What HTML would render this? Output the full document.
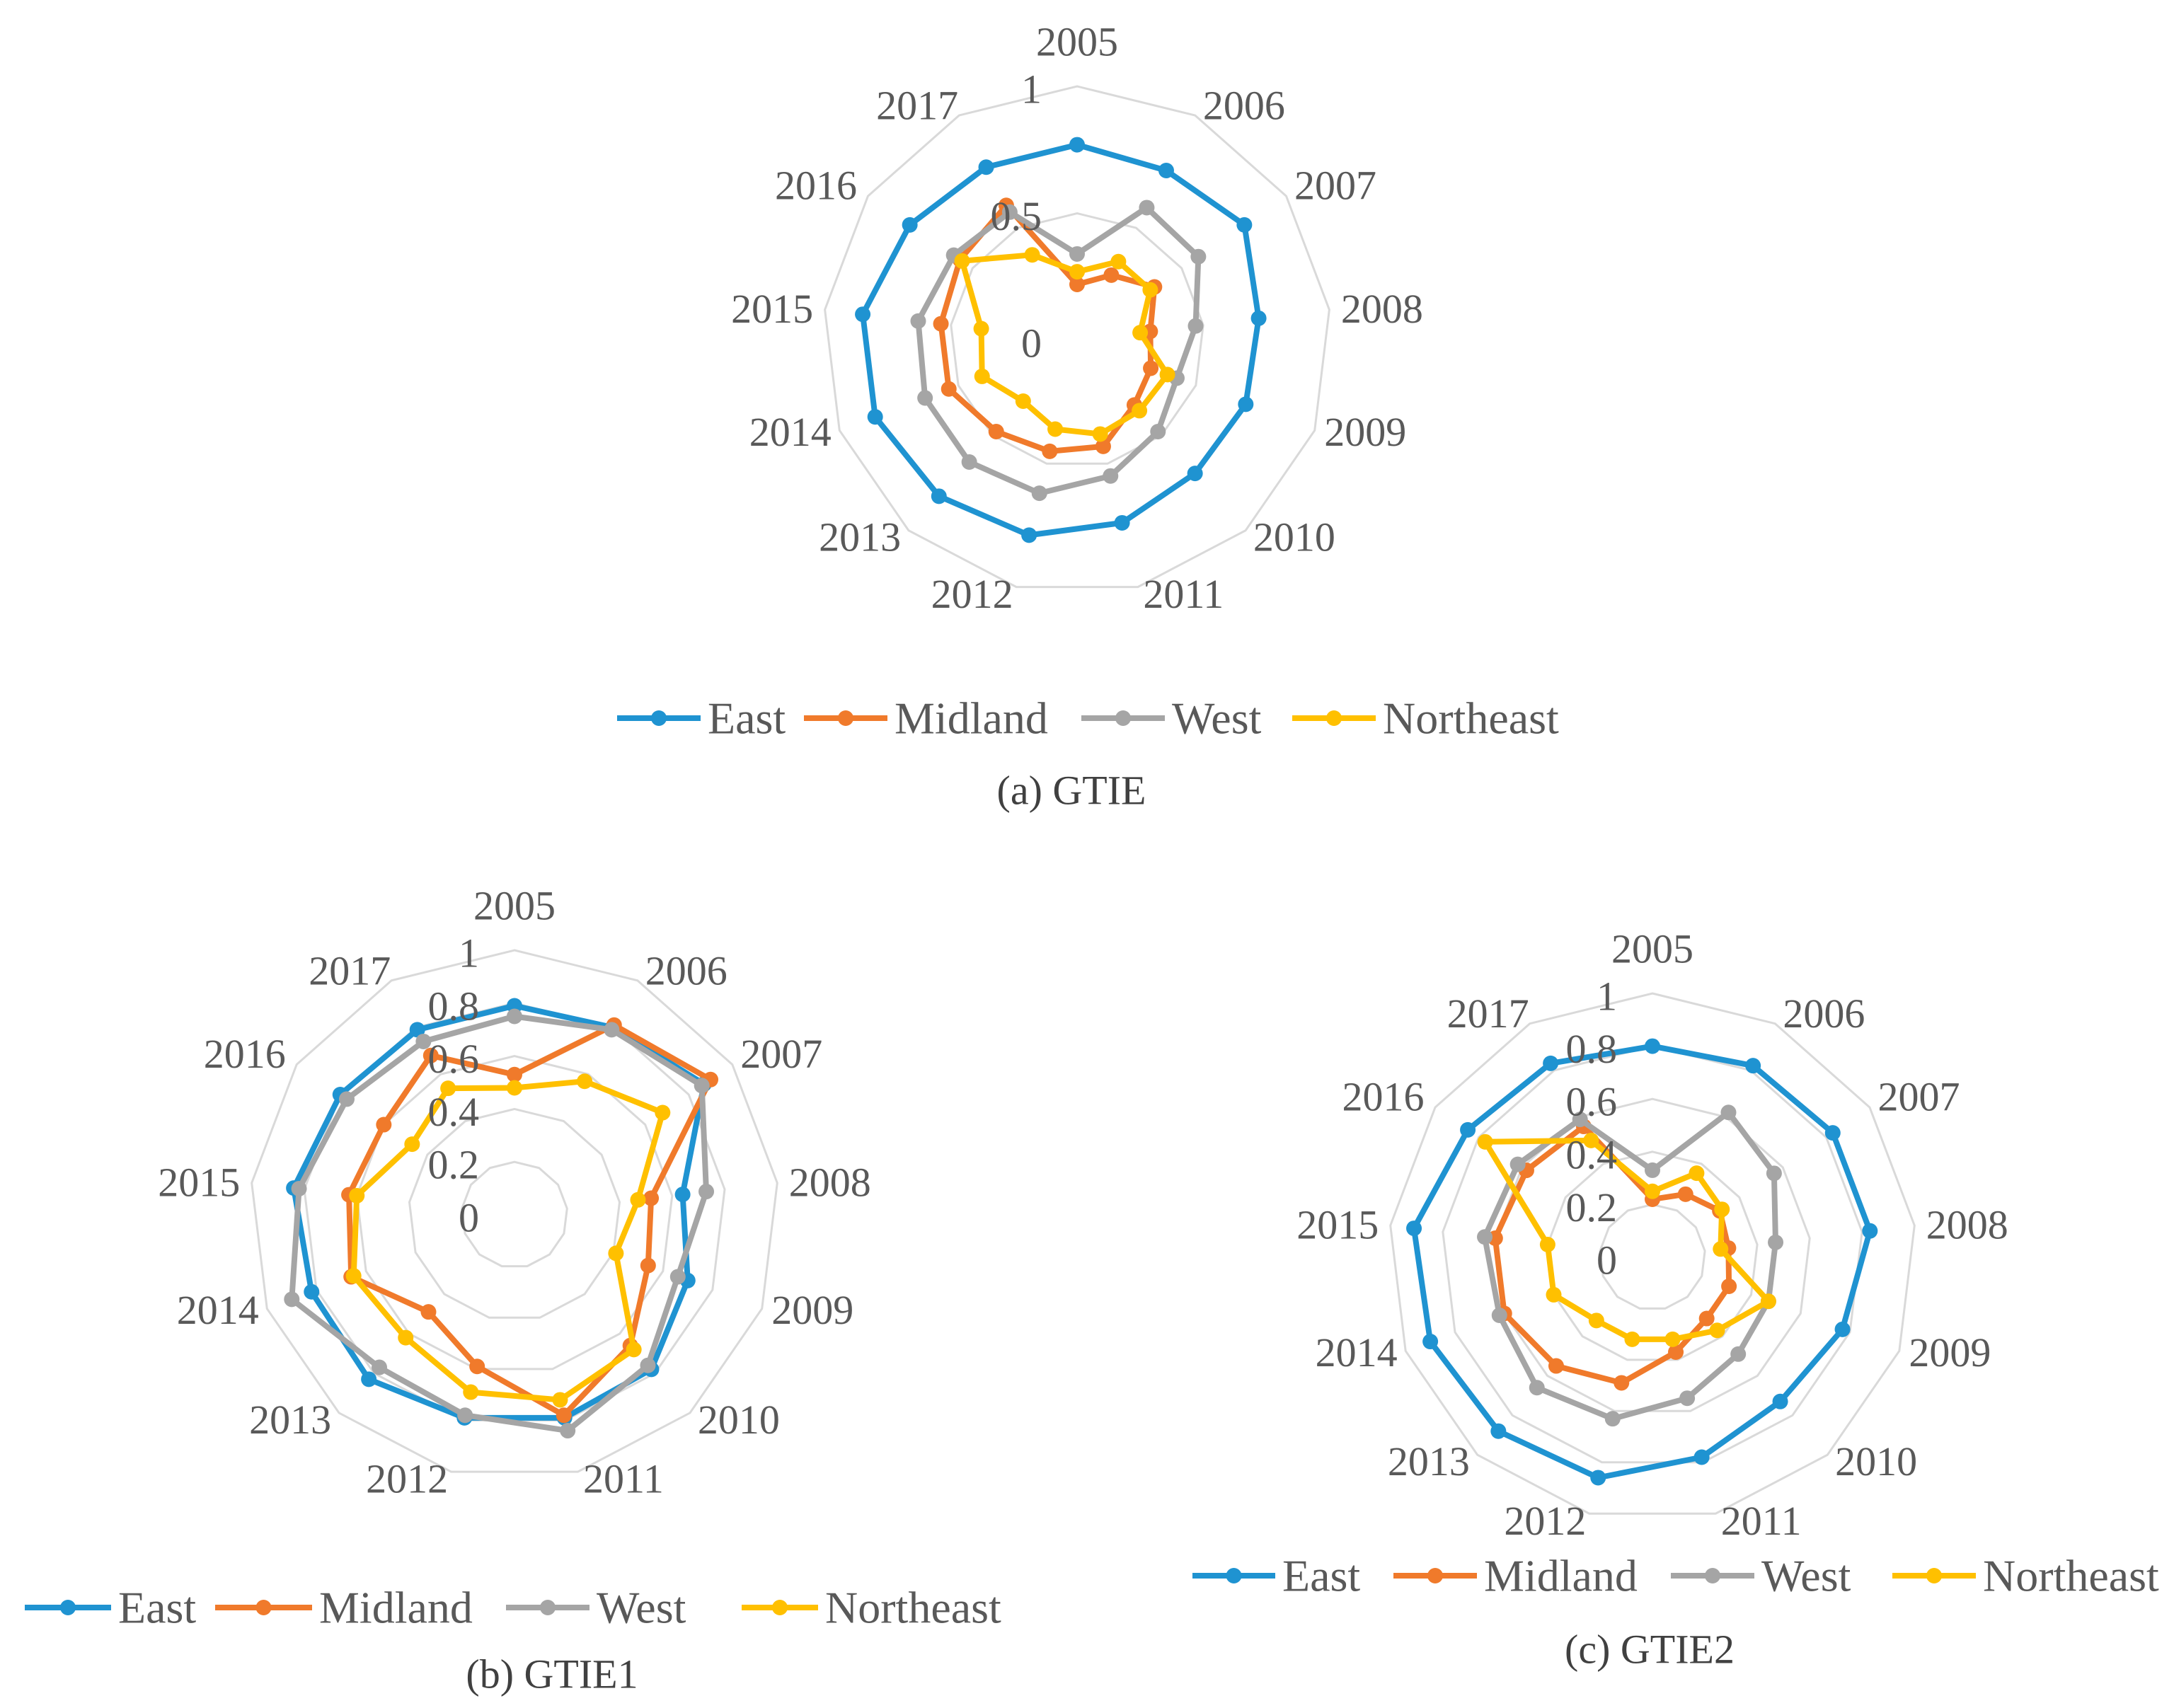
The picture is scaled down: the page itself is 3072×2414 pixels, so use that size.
<!DOCTYPE html>
<html><head><meta charset="utf-8"><style>
html,body{margin:0;padding:0;background:#fff;}
svg{display:block;font-family:"Liberation Serif",serif;}
</style></head>
<body>
<svg id="root" width="3072" height="2414" viewBox="0 0 3072 2414" xmlns="http://www.w3.org/2000/svg"></svg>
<script>
const categories = ["2005","2006","2007","2008","2009","2010","2011","2012","2013","2014","2015","2016","2017"];
const seriesNames = ["East","Midland","West","Northeast"];
const a_east = [0.77,0.755,0.80,0.72,0.71,0.70,0.74,0.79,0.82,0.85,0.85,0.80,0.77];
const a_mid  = [0.22,0.29,0.37,0.29,0.31,0.34,0.43,0.45,0.48,0.54,0.54,0.56,0.60];
const a_west = [0.34,0.59,0.58,0.47,0.42,0.48,0.55,0.62,0.64,0.64,0.63,0.59,0.57];
const a_ne   = [0.27,0.35,0.35,0.25,0.38,0.37,0.38,0.36,0.32,0.40,0.38,0.55,0.38];
const b_east = [0.79,0.80,0.87,0.64,0.70,0.78,0.79,0.79,0.83,0.82,0.84,0.80,0.79];
const b_mid  = [0.53,0.81,0.90,0.52,0.54,0.66,0.78,0.59,0.49,0.66,0.63,0.60,0.68];
const b_west = [0.75,0.79,0.86,0.73,0.66,0.76,0.84,0.78,0.77,0.90,0.82,0.77,0.74];
const b_ne   = [0.48,0.57,0.68,0.47,0.41,0.68,0.72,0.69,0.62,0.65,0.60,0.47,0.54];
const c_east = [0.80,0.82,0.83,0.83,0.77,0.73,0.78,0.86,0.88,0.90,0.91,0.85,0.83];
const c_mid  = [0.22,0.27,0.31,0.29,0.31,0.31,0.37,0.49,0.55,0.60,0.60,0.58,0.56];
const c_west = [0.33,0.62,0.56,0.47,0.47,0.49,0.55,0.63,0.66,0.62,0.64,0.62,0.59];
const c_ne   = [0.25,0.36,0.32,0.26,0.47,0.37,0.32,0.32,0.32,0.40,0.40,0.77,0.50];
const a_ticks = ["0","0.5","1"];
const bc_ticks = ["0","0.2","0.4","0.6","0.8","1"];

const colors = ["#1f93d1","#f07a2b","#a5a5a5","#ffc000"];
const labelOffsets = [63,43,65,75,68,54,31,31,54,68,75,65,43];
const labelShift = [[0,0],[49,24],[16,22],[0,8],[8,-22],[33,-31],[57,-20],[-55,-20],[-33,-31],[-6,-22],[0,8],[-20,22],[-39,24]];
const NS = "http://www.w3.org/2000/svg";
const root = document.getElementById("root");
function mk(tag, attrs, parent){const e=document.createElementNS(NS,tag);for(const k in attrs)e.setAttribute(k,attrs[k]);(parent||root).appendChild(e);return e;}

function radar(id, cx, cy, R, ticks, data){
  const g = mk("g",{});
  
  
  const n = categories.length;
  const maxV = parseFloat(ticks[ticks.length-1]);
  const ang = i => i*2*Math.PI/n;
  const px = (i,v) => cx + Math.sin(ang(i))*v/maxV*R;
  const py = (i,v) => cy - Math.cos(ang(i))*v/maxV*R;
  ticks.forEach((t,k)=>{
    const v=parseFloat(t); if(v===0) return;
    const pts = categories.map((c,i)=>px(i,v).toFixed(1)+","+py(i,v).toFixed(1)).join(" ");
    const p = mk("polygon",{points:pts,fill:"none",stroke:"#d9d9d9","stroke-width":3},g);
    
    
  });
  categories.forEach((c,i)=>{
    const off = labelOffsets[i];
    const t = mk("text",{x:px(i,maxV)+Math.sin(ang(i))*off+labelShift[i][0],y:py(i,maxV)-Math.cos(ang(i))*off+labelShift[i][1],"text-anchor":"middle","dominant-baseline":"central","font-size":58,fill:"#595959"},g);
    t.textContent=c;
    
    
  });
  data.forEach((vals,s)=>{
    const sg = mk("g",{},g);
    
    
    const pts = vals.map((v,i)=>px(i,v).toFixed(1)+","+py(i,v).toFixed(1)).join(" ");
    const l = mk("polygon",{points:pts,fill:"none",stroke:colors[s],"stroke-width":8,"stroke-linejoin":"round"},sg);
    
    
    vals.forEach((v,i)=>{
      const m = mk("circle",{cx:px(i,v),cy:py(i,v),r:11,fill:colors[s]},sg);
      
      
    });
  });
  ticks.forEach(t=>{
    const v=parseFloat(t);
    const tx = mk("text",{x:cx-50,y:cy-v/maxV*R+4,"text-anchor":"end","dominant-baseline":"central","font-size":58,fill:"#595959"},g);
    tx.textContent=t;
    
    
  });
}

function legend(id, y, items){
  const g = mk("g",{});
  
  
  items.forEach((it,s)=>{
    const eg = mk("g",{},g);
    
    
    mk("line",{x1:it[0],y1:y,x2:it[1],y2:y,stroke:colors[s],"stroke-width":8},eg);
    mk("circle",{cx:(it[0]+it[1])/2,cy:y,r:11,fill:colors[s]},eg);
    const t = mk("text",{x:it[1]+10,y:y,"dominant-baseline":"central","font-size":64,fill:"#595959"},eg);
    t.textContent = seriesNames[s];
  });
}
function caption(name, x, y, txt){
  const t = mk("text",{x:x,y:y,"text-anchor":"middle","dominant-baseline":"central","font-size":58,fill:"#404040"});
  t.textContent = txt;
  
  
}

radar("gtie", 1522, 481, 359, a_ticks, [a_east,a_mid,a_west,a_ne]);
radar("gtie1", 727, 1717, 374, bc_ticks, [b_east,b_mid,b_west,b_ne]);
radar("gtie2", 2335, 1777, 373, bc_ticks, [c_east,c_mid,c_west,c_ne]);

legend("gtie", 1015, [[872,990],[1136,1254],[1528,1646],[1826,1944]]);
legend("gtie1", 2272, [[35,157],[304,441],[715,833],[1048,1156]]);
legend("gtie2", 2227, [[1685,1802],[1969,2087],[2361,2479],[2674,2792]]);

caption("caption-a", 1514, 1117, "(a) GTIE");
caption("caption-b", 780, 2366, "(b) GTIE1");
caption("caption-c", 2331, 2331, "(c) GTIE2");
</script>
</body></html>
